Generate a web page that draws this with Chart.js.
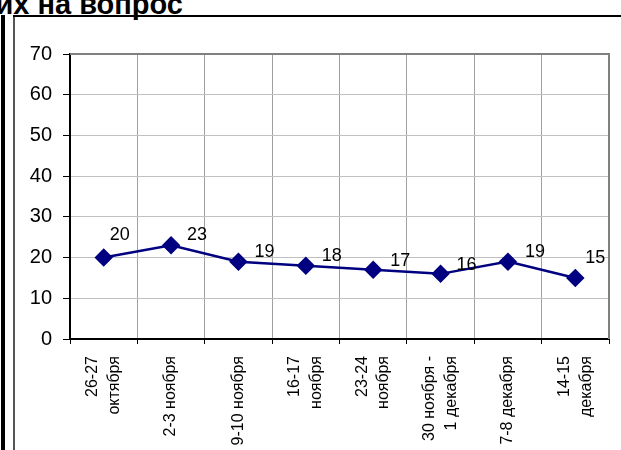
<!DOCTYPE html>
<html lang="ru">
<head>
<meta charset="UTF-8">
<title>График</title>
<script src="https://cdn.jsdelivr.net/npm/chart.js"></script>
<style>
  body {margin:0;background:#fff;font-family:Arial,'Liberation Sans',sans-serif;}
  .wrap {position:relative;width:621px;height:450px;overflow:hidden;}
  .title {position:absolute;right:438px;top:-10px;font:bold 29px/29px Arial,'Liberation Sans',sans-serif;color:#000;white-space:nowrap;}
  .bar-thick {position:absolute;left:1px;top:15px;width:4px;height:440px;background:#000;}
  .bar-thin {position:absolute;left:13px;top:15px;width:2px;height:440px;background:#555;}
  .line-top {position:absolute;left:13px;top:15px;width:620px;height:2px;background:#000;}
  canvas {position:absolute;left:0;top:0;}
</style>
</head>
<body>
<div class="wrap">
  <div class="title">их на вопрос</div>
  <div class="bar-thick"></div>
  <div class="bar-thin"></div>
  <div class="line-top"></div>
  <canvas id="chart" width="621" height="450"></canvas>
</div>
<script>
// данные
const weeks = [
  ['26-27', 'октября'],
  '2-3 ноября',
  '9-10 ноября',
  ['16-17', 'ноября'],
  ['23-24', 'ноября'],
  ['30 ноября -', '1 декабря'],
  '7-8 декабря',
  ['14-15', 'декабря']
];
const values = [20, 23, 19, 18, 17, 16, 19, 15];
const yTicks = [0, 10, 20, 30, 40, 50, 60, 70];

// сдвиг подписей значений (dx, dy) относительно точки
const labelShift = [[16,-23],[26,-10],[26,-10],[26,-10],[27,-9],[26,-9],[27,-10],[20,-20]];

const X_FONT = 16, X_LH = 1.35;

const valueLabels = {
  id: 'valueLabels',
  afterDatasetsDraw(chart){
    const ctx = chart.ctx;
    const meta = chart.getDatasetMeta(0);
    ctx.save();
    ctx.font = '18px Arial, "Liberation Sans", sans-serif';
    ctx.fillStyle = '#000';
    ctx.textAlign = 'center';
    ctx.textBaseline = 'middle';
    meta.data.forEach((pt,i)=>{
      const s = labelShift[i];
      ctx.fillText(String(values[i]), pt.x + s[0], pt.y + s[1]);
    });
    ctx.restore();
  }
};

// центрируем двухстрочные повернутые подписи по делению
const centerLabels = {
  id: 'centerLabels',
  beforeDraw(chart){
    const lh = X_FONT * X_LH;
    chart.scales.x.getLabelItems().forEach(it => {
      if (Array.isArray(it.label) && !it._moved) {
        it.options.translation[0] -= (it.label.length - 1) * lh / 2;
        it._moved = true;
      }
    });
  }
};

const plotFrame = {
  id: 'plotFrame',
  beforeDatasetsDraw(chart){
    const {ctx, chartArea:a} = chart;
    ctx.save();
    ctx.strokeStyle = '#808080';
    ctx.lineWidth = 2;
    ctx.beginPath();
    ctx.moveTo(a.left, a.top);
    ctx.lineTo(a.right, a.top);
    ctx.lineTo(a.right, a.bottom);
    ctx.stroke();
    ctx.restore();
  }
};

new Chart(document.getElementById('chart'), {
  type: 'line',
  data: {
    labels: weeks,
    datasets: [{
      data: values,
      borderColor: '#000080',
      borderWidth: 2.5,
      backgroundColor: '#000080',
      pointStyle: 'rectRot',
      pointRadius: 7.5,
      pointHoverRadius: 7.5,
      pointBackgroundColor: '#000080',
      pointBorderColor: '#000080',
      tension: 0
    }]
  },
  options: {
    responsive: false,
    animation: false,
    events: [],
    layout: {padding: {top: 54, right: 12, left: 0, bottom: 0}},
    plugins: {legend: {display: false}, tooltip: {enabled: false}},
    scales: {
      x: {
        offset: true,
        grid: {offset: true, color: '#a0a0a0', lineWidth: 1, tickColor: '#000', tickLength: 5},
        border: {color: '#000', width: 2},
        ticks: {
          color: '#000',
          font: {family: 'Arial, "Liberation Sans", sans-serif', size: X_FONT, lineHeight: X_LH},
          minRotation: 90, maxRotation: 90, autoSkip: false, padding: 12
        },
        afterFit(s){ s.height = 111; s.paddingLeft = 0; s.paddingRight = 0; }
      },
      y: {
        min: 0, max: 70,
        afterBuildTicks(s){ s.ticks = yTicks.map(v => ({value: v})); },
        grid: {color: '#c0c0c0', lineWidth: 1, tickColor: '#000', tickLength: 7},
        border: {color: '#000', width: 2},
        ticks: {
          color: '#000',
          font: {family: 'Arial, "Liberation Sans", sans-serif', size: 20},
          padding: 11
        },
        afterFit(s){ s.width = 70; }
      }
    }
  },
  plugins: [plotFrame, valueLabels, centerLabels]
});
</script>
</body>
</html>
